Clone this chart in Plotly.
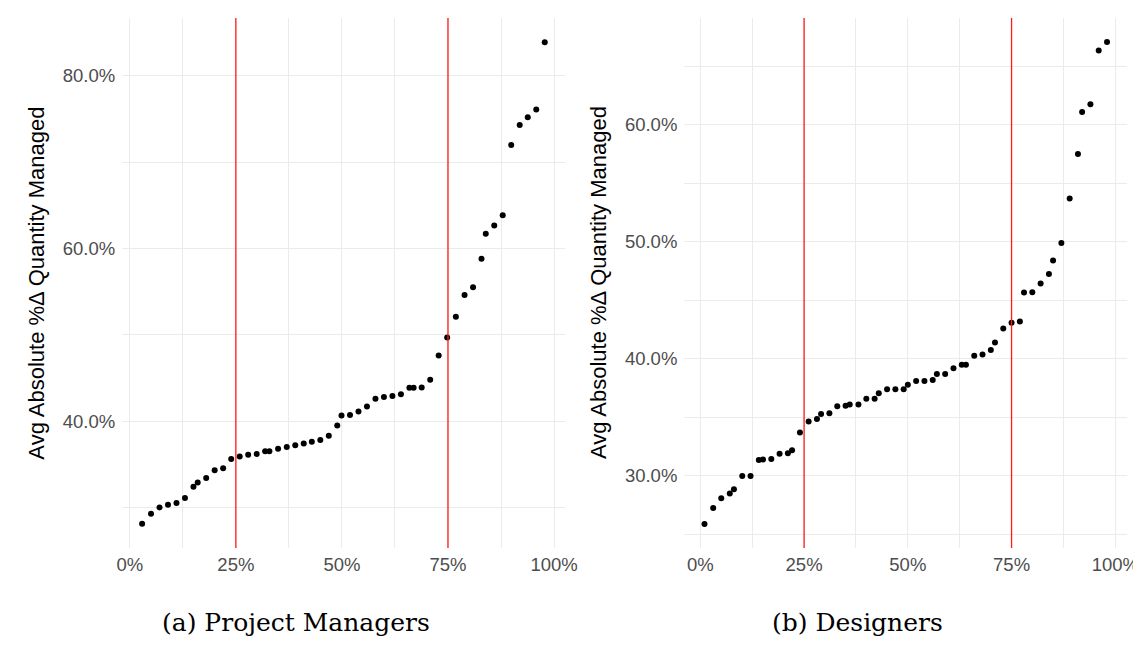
import plotly.graph_objects as go

# ---- Data ----
pm_rank = [2.9, 5.0, 7.0, 9.0, 11.0, 13.0, 15.0, 16.0, 18.0, 20.0, 22.0, 23.9, 25.9, 27.9,
           29.9, 31.9, 32.9, 34.95, 37.0, 39.0, 41.0, 42.9, 44.9, 46.9, 48.9, 49.9, 51.9,
           53.9, 55.9, 57.9, 59.9, 61.9, 63.9, 65.9, 66.9, 68.8, 70.8, 72.8, 74.8, 76.85,
           78.9, 80.9, 82.9, 83.9, 85.9, 87.9, 89.9, 91.9, 93.8, 95.8, 97.8]
pm_value = [28.1, 29.26, 30.0, 30.3, 30.5, 31.1, 32.4, 32.9, 33.4, 34.3, 34.55, 35.6, 35.9,
            36.1, 36.2, 36.5, 36.5, 36.8, 37.0, 37.2, 37.4, 37.6, 37.8, 38.3, 39.5, 40.65,
            40.7, 41.1, 41.7, 42.6, 42.8, 42.9, 43.1, 43.86, 43.86, 43.9, 44.8, 47.6, 49.7,
            52.1, 54.6, 55.5, 58.8, 61.7, 62.66, 63.86, 72.0, 74.3, 75.2, 76.1, 83.9]

des_rank = [1.0, 3.1, 5.05, 7.1, 8.1, 10.1, 12.1, 14.1, 15.1, 17.1, 19.1, 21.1, 22.1, 24.0,
            26.1, 28.1, 29.1, 31.1, 33.0, 35.0, 36.0, 38.1, 40.0, 42.0, 43.0, 45.0, 47.0,
            49.0, 50.0, 52.0, 54.0, 56.0, 57.0, 59.0, 61.0, 63.0, 64.0, 66.0, 68.0, 70.0,
            71.0, 73.0, 75.0, 77.0, 78.0, 80.0, 82.0, 84.0, 85.0, 87.0, 89.0, 91.0, 92.0,
            94.0, 96.0, 98.0]
des_value = [25.9, 27.26, 28.1, 28.5, 28.86, 30.0, 30.0, 31.37, 31.4, 31.45, 31.9, 31.93,
             32.2, 33.7, 34.64, 34.87, 35.3, 35.36, 35.96, 36.0, 36.1, 36.1, 36.6, 36.6,
             37.07, 37.4, 37.4, 37.4, 37.8, 38.1, 38.1, 38.2, 38.7, 38.7, 39.2, 39.5, 39.5,
             40.26, 40.37, 40.77, 41.4, 42.6, 43.08, 43.2, 45.67, 45.7, 46.44, 47.26, 48.4,
             49.9, 53.7, 57.5, 61.1, 61.77, 66.35, 67.07]

quartiles = [25, 75]
x_ticks = [0, 25, 50, 75, 100]
x_ticklabels = ["0%", "25%", "50%", "75%", "100%"]
pm_yticks = [40, 60, 80]
pm_yticklabels = ["40.0%", "60.0%", "80.0%"]
des_yticks = [30, 40, 50, 60]
des_yticklabels = ["30.0%", "40.0%", "50.0%", "60.0%"]
y_title = "Avg Absolute %Δ Quantity Managed"
captions = ["(a) Project Managers", "(b) Designers"]

W, H = 1141, 647
fig = go.Figure()

fig.add_trace(go.Scatter(x=pm_rank, y=pm_value, mode="markers",
                         marker=dict(color="black", size=6), xaxis="x", yaxis="y",
                         showlegend=False))
fig.add_trace(go.Scatter(x=des_rank, y=des_value, mode="markers",
                         marker=dict(color="black", size=6), xaxis="x2", yaxis="y2",
                         showlegend=False))

for q in quartiles:
    fig.add_shape(type="line", xref="x", yref="y domain", x0=q, x1=q, y0=0, y1=1,
                  line=dict(color="#ff1a1a", width=1.3))
    fig.add_shape(type="line", xref="x2", yref="y2 domain", x0=q, x1=q, y0=0, y1=1,
                  line=dict(color="#ff1a1a", width=1.3))

grid = "#ebebeb"
tickfont = dict(family="Liberation Sans, Arial, sans-serif", size=18.5, color="#4d4d4d")

def xaxis(domain, rng, anchor):
    return dict(domain=domain, range=rng, anchor=anchor, tickmode="array",
                tickvals=x_ticks, ticktext=x_ticklabels,
                showgrid=True, gridcolor=grid, gridwidth=1.1, zeroline=False,
                showline=False, ticks="", tickfont=tickfont, ticklabelstandoff=3,
                minor=dict(showgrid=True, gridcolor=grid, gridwidth=0.6, dtick=12.5, tick0=0))

def yaxis(domain, rng, tv, tt, mdtick, anchor):
    return dict(domain=domain, range=rng, anchor=anchor, tickmode="array",
                tickvals=tv, ticktext=tt,
                showgrid=True, gridcolor=grid, gridwidth=1.1, zeroline=False,
                showline=False, ticks="", tickfont=tickfont, ticklabelstandoff=6,
                minor=dict(showgrid=True, gridcolor=grid, gridwidth=0.6, dtick=mdtick, tick0=0))

ydom = [(H - 540) / H, (H - 10) / H]
fig.update_layout(
    width=W, height=H,
    margin=dict(l=0, r=0, t=0, b=0),
    paper_bgcolor="white", plot_bgcolor="white",
    xaxis=xaxis([110 / W, 560 / W], [-1.8, 102.5], "y"),
    yaxis=yaxis(ydom, [25.3, 86.7], pm_yticks, pm_yticklabels, 10, "x"),
    xaxis2=xaxis([681.7 / W, 1132 / W], [-3.85, 102.85], "y2"),
    yaxis2=yaxis(ydom, [23.84, 69.13], des_yticks, des_yticklabels, 5, "x2"),
)

title_font = dict(family="Liberation Sans, Arial, sans-serif", size=22, color="black")
for xpx in (22, 594):
    fig.add_annotation(text=y_title, xref="paper", yref="paper", x=xpx / W,
                       y=(H - 275) / H, textangle=-90, showarrow=False,
                       font=title_font, xanchor="center", yanchor="middle")

cap_font = dict(family="DejaVu Serif, serif", size=25, color="black")
for xpx, cap in zip((287, 858), captions):
    fig.add_annotation(text=cap, xref="paper", yref="paper", x=xpx / W,
                       y=(H - 614) / H, showarrow=False, font=cap_font,
                       xanchor="center", yanchor="middle")

fig.write_html("out.html")
